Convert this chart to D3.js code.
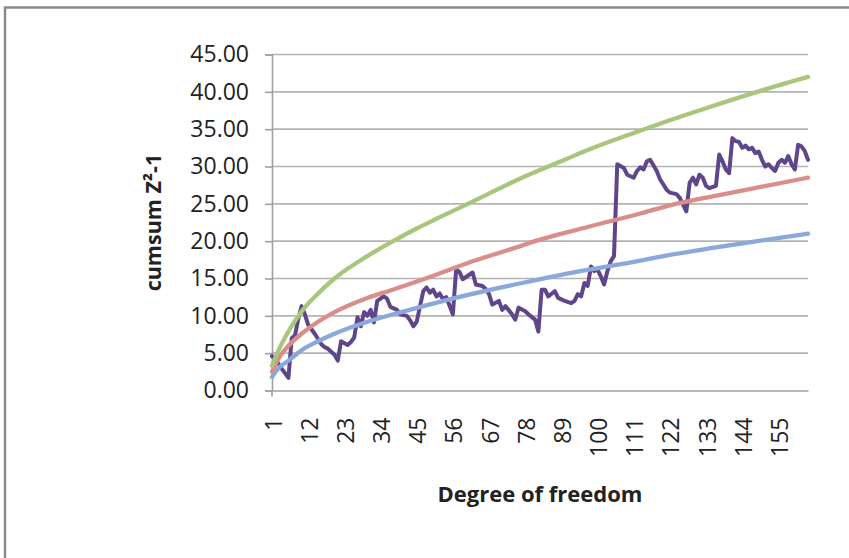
<!DOCTYPE html>
<html><head><meta charset="utf-8">
<script src="https://cdn.jsdelivr.net/npm/d3@7"></script>
<style>html,body{margin:0;padding:0;background:#fff;} svg{display:block}</style>
</head><body>
<svg id="chart" width="849" height="558"></svg>
<script>
// ---- data ----
const xTickLabels = [1,12,23,34,45,56,67,78,89,100,111,122,133,144,155];
const yTickValues = [0,5,10,15,20,25,30,35,40,45];
const firstCategory = 1, lastCategory = 164;

const purpleCat = [1,2,4,6,7,8,9,10,11,12,14,16,17,18,19,20,21,22,24,25,26,27,28,29,30,31,32,33,35,36,37,39,40,42,43,44,45,47,48,49,50,51,52,53,54,56,57,58,59,61,62,63,65,66,67,68,70,71,72,74,75,76,78,79,81,82,83,84,85,87,88,90,92,93,94,95,96,97,98,99,100,101,102,103,104,105,106,108,109,111,112,113,114,115,116,118,119,121,122,124,125,127,128,129,130,131,132,133,134,136,137,138,139,140,141,142,143,144,145,146,147,148,149,150,151,152,153,154,155,156,157,158,159,160,161,162,163,164];
const purpleVal = [4.6,4.2,2.9,1.7,7.0,7.4,9.6,11.3,10.2,8.8,7.6,6.2,5.8,5.6,5.2,4.8,4.0,6.6,6.1,6.5,7.1,9.8,8.6,10.5,10.0,10.8,9.1,12.0,12.6,12.3,11.2,10.8,10.2,10.0,9.4,8.6,9.2,13.3,13.8,13.1,13.5,12.6,13.0,12.2,12.5,10.2,16.2,15.9,14.9,15.5,15.8,14.2,14.0,13.6,12.9,11.5,12.0,10.8,11.3,10.2,9.5,11.1,10.6,10.2,9.5,7.9,13.5,13.5,12.6,13.3,12.4,12.0,11.7,12.0,12.9,12.6,14.4,14.0,16.6,16.0,16.2,15.3,14.2,16.0,17.3,18.0,30.3,29.8,28.9,28.5,29.4,29.9,29.6,30.7,30.9,29.4,28.3,26.9,26.5,26.3,25.8,24.0,27.8,28.5,27.6,28.9,28.5,27.4,27.1,27.4,31.6,30.7,29.6,29.1,33.8,33.4,33.3,32.5,32.8,32.3,32.5,31.8,32.0,30.9,30.0,30.3,29.8,29.4,30.5,30.9,30.5,31.4,30.3,29.6,32.9,32.7,32.1,30.9];

const blueCat = [1,3,6,10,15,20,30,42,55,77,90,113,120,135,150,164];
const blueVal = [1.8,3.0,4.0,5.4,6.6,7.6,9.2,10.7,12.2,14.4,15.6,17.4,18.0,19.1,20.1,21.0];

const redCat = [1,3,6,10,15,20,30,37,49,62,77,81,97,113,122,135,150,164];
const redVal = [2.5,4.3,6.0,7.6,9.2,10.5,12.4,13.4,15.2,17.3,19.4,20.0,21.9,23.7,24.8,26.0,27.3,28.5];

const greenCat = [1,3,6,10,15,20,30,37,45,51,62,77,90,97,113,120,135,150,164];
const greenVal = [3.3,5.4,7.9,10.6,13.0,15.0,18.0,19.8,21.7,23.0,25.3,28.5,30.9,32.2,34.8,35.9,38.1,40.2,42.0];

const yTitle = "cumsum Z\u00B2-1";
const xTitle = "Degree of freedom";

// ---- drawing ----
const svg = d3.select("#chart");
const plot = {left: 272, right: 808, top: 54.5, bottom: 390.5};
const x = d3.scaleLinear().domain([firstCategory, lastCategory]).range([plot.left, plot.right]);
const y = d3.scaleLinear().domain([0, 45]).range([plot.bottom, plot.top]);
const font = "'Open Sans', sans-serif";

// frame
svg.append("path").attr("d", "M5,560 L5,7.5 L852,7.5")
  .attr("fill", "none").attr("stroke", "#8a8a8a").attr("stroke-width", 2.5);

// gridlines
svg.append("g").selectAll("line").data(yTickValues.filter(v => v > 0)).join("line")
  .attr("x1", plot.left).attr("x2", plot.right)
  .attr("y1", d => y(d)).attr("y2", d => y(d))
  .attr("stroke", "#b4b4b4").attr("stroke-width", 1.6);

// y axis
const yAxis = d3.axisLeft(y).tickValues(yTickValues).tickSize(7).tickPadding(16)
  .tickFormat(d => d.toFixed(2));
const gy = svg.append("g").attr("transform", `translate(${plot.left},0)`).call(yAxis);
gy.select(".domain").attr("stroke", "#a0a0a0").attr("stroke-width", 1.6);
gy.selectAll(".tick line").attr("stroke", "#a0a0a0").attr("stroke-width", 1.6);
gy.selectAll(".tick text").attr("font-family", font).attr("font-size", 23).attr("fill", "#222");

// x axis
const xAxis = d3.axisBottom(x).tickValues(xTickLabels).tickSize(0).tickPadding(0);
const gx = svg.append("g").attr("transform", `translate(0,${plot.bottom})`).call(xAxis);
gx.select(".domain").attr("stroke", "#a0a0a0").attr("stroke-width", 1.6);
gx.selectAll(".tick text")
  .attr("font-family", font).attr("font-size", 23).attr("fill", "#222")
  .attr("transform", "rotate(-90)")
  .attr("text-anchor", "end").attr("dy", "0.35em").attr("x", -27).attr("y", 1);
svg.append("line").attr("x1", plot.left).attr("x2", plot.left)
  .attr("y1", plot.bottom).attr("y2", plot.bottom + 6).attr("stroke", "#a0a0a0").attr("stroke-width", 1.6);

// series
function series(cats, vals, color, width, curve) {
  const pts = cats.map((c, i) => [c, vals[i]]);
  svg.append("path").datum(pts)
    .attr("fill", "none").attr("stroke", color).attr("stroke-width", width)
    .attr("stroke-linejoin", "round").attr("stroke-linecap", "round")
    .attr("d", d3.line().x(d => x(d[0])).y(d => y(d[1])).curve(curve));
}
series(purpleCat, purpleVal, "#5f468b", 4, d3.curveLinear);
series(blueCat, blueVal, "#8aa9da", 4.3, d3.curveMonotoneX);
series(redCat, redVal, "#d98e8a", 4.3, d3.curveMonotoneX);
series(greenCat, greenVal, "#a8c77c", 4.3, d3.curveMonotoneX);

// titles
svg.append("text").text(yTitle)
  .attr("transform", `translate(153,${(plot.top + plot.bottom) / 2}) rotate(-90)`)
  .attr("text-anchor", "middle").attr("dy", "0.35em")
  .attr("font-family", font).attr("font-weight", "bold").attr("font-size", 21.5).attr("fill", "#222");
svg.append("text").text(xTitle)
  .attr("x", (plot.left + plot.right) / 2).attr("y", 494)
  .attr("text-anchor", "middle").attr("dy", "0.35em")
  .attr("font-family", font).attr("font-weight", "bold").attr("font-size", 22).attr("fill", "#222");
</script>
</body></html>
